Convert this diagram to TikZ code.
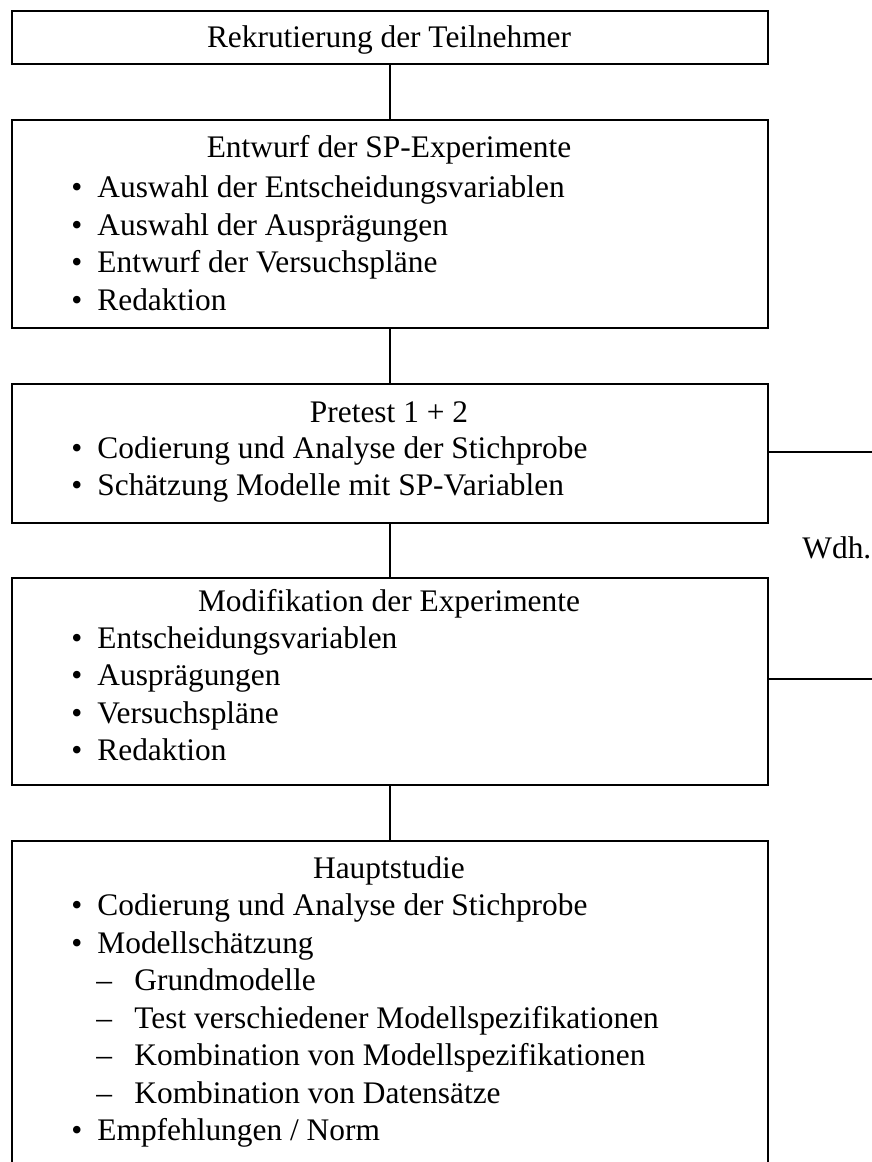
\documentclass[tikz,border=0pt]{standalone}
\usepackage{fontspec}
\setmainfont{Liberation Serif}
\begin{document}
\begin{tikzpicture}[x=0.5pt,y=-0.5pt,
    stage/.style={draw,line width=0.9pt,anchor=north west,inner sep=0pt,minimum width=378pt},
    link/.style={line width=0.9pt},
    txt/.style={inner sep=0pt,font=\fontsize{15.7}{18}\selectfont},
    head/.style={txt,anchor=base},
    entry/.style={txt,anchor=base west}]
  \useasboundingbox (0,0) rectangle (872,1162);
  \clip (0,0) rectangle (872,1162);
  % stages
  \node[stage,minimum height=26.5pt] (rekr) at (11,10) {};
  \node[stage,minimum height=104pt] (entw) at (11,119) {};
  \node[stage,minimum height=69.5pt] (pre) at (11,383) {};
  \node[stage,minimum height=103.5pt] (mod) at (11,577) {};
  \node[stage,minimum height=175pt] (haupt) at (11,840) {};
  % connectors
  \draw[link] (rekr) -- (entw);
  \draw[link] (entw) -- (pre);
  \draw[link] (pre) -- (mod);
  \draw[link] (mod) -- (haupt);
  % repetition loop
  \coordinate (loopa) at (872,452);
  \coordinate (loopb) at (872,679);
  \draw[link] (pre.east |- loopa) -- (loopa);
  \draw[link] (mod.east |- loopb) -- (loopb);
  \node[entry] (wdh) at (802,558) {Wdh.};
  % headings
  \node[head] (rekrt) at (389,47) {Rekrutierung der Teilnehmer};
  \node[head] (entwt) at (389,157) {Entwurf der SP-Experimente};
  \node[head] (pret) at (389,422) {Pretest 1 + 2};
  \node[head] (modt) at (389,611) {Modifikation der Experimente};
  \node[head] (hauptt) at (389,878) {Hauptstudie};
  % bullet items
  \foreach \y/\t in {197/Auswahl der Entscheidungsvariablen,
                     235/Auswahl der Ausprägungen,
                     272/Entwurf der Versuchspläne,
                     310/Redaktion,
                     458/Codierung und Analyse der Stichprobe,
                     495/Schätzung Modelle mit SP-Variablen,
                     648/Entscheidungsvariablen,
                     685/Ausprägungen,
                     723/Versuchspläne,
                     760/Redaktion,
                     915/Codierung und Analyse der Stichprobe,
                     953/Modellschätzung,
                     1140/{Empfehlungen / Norm}} {
    \node[entry] (dot\y) at (71,\y) {•};
    \node[entry] (item\y) at (97,\y) {\t};
  }
  % sub items
  \foreach \y/\t in {990/Grundmodelle,
                     1028/Test verschiedener Modellspezifikationen,
                     1065/Kombination von Modellspezifikationen,
                     1103/Kombination von Datensätze} {
    \node[entry] (dash\y) at (96,\y) {–};
    \node[entry] (sub\y) at (134,\y) {\t};
  }
\end{tikzpicture}
\end{document}
